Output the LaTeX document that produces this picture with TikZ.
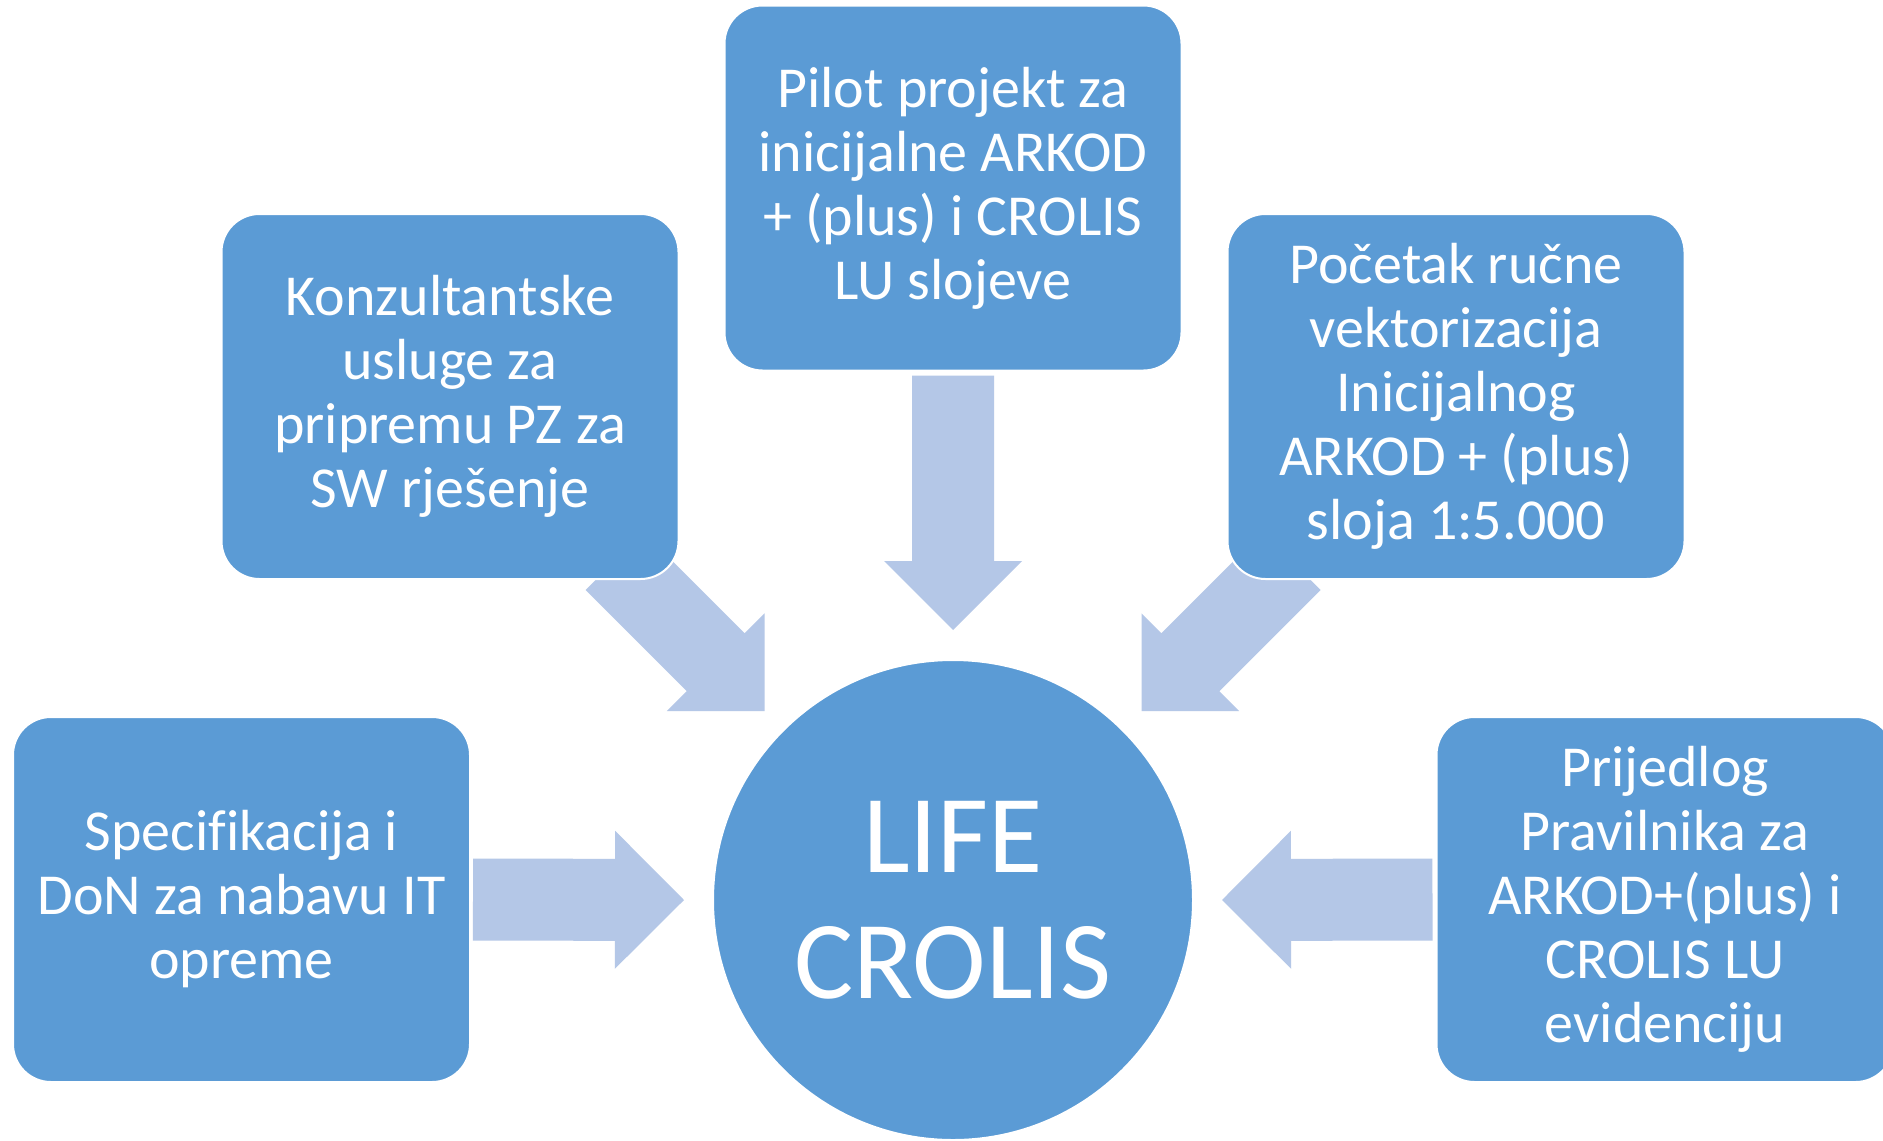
\documentclass[tikz,border=0pt]{standalone}
\usepackage{fontspec}
\setmainfont{Carlito}[Ligatures={NoCommon}]
\usetikzlibrary{calc,backgrounds}
\definecolor{boxblue}{HTML}{5B9BD5}
\definecolor{arrowblue}{HTML}{B4C7E7}
\newcommand\blockarr[2]{%
  \coordinate (hb) at ($(#2)!69pt!(#1)$);
  \fill[arrowblue] ($(#1)!41pt!90:(#2)$) -- ($(hb)!41pt!-90:(#1)$) -- ($(hb)!69pt!-90:(#1)$) -- (#2)
    -- ($(hb)!69pt!90:(#1)$) -- ($(hb)!41pt!90:(#1)$) -- ($(#1)!41pt!-90:(#2)$) -- cycle;
}
\tikzset{
  card/.style={rectangle, rounded corners=38pt, fill=boxblue, draw=white, line width=2pt,
    minimum width=457pt, minimum height=365pt, text=white, align=center, inner sep=0pt,
    font=\fontsize{58}{64}\selectfont},
  hub/.style={circle, fill=boxblue, draw=white, line width=2pt, minimum size=480pt,
    text=white, align=center, inner sep=0pt, font=\fontsize{111}{126}\selectfont}
}
\begin{document}
\begin{tikzpicture}[x=1pt,y=-1pt]
\clip (0,0) rectangle (1883,1141);
\useasboundingbox (0,0) rectangle (1883,1141);
\node[card] (top) at (953,188) {Pilot projekt za\\inicijalne ARKOD\\+ (plus) i CROLIS\\LU slojeve};
\node[card] (tl) at (450,396.5) {Konzultantske\\usluge za\\pripremu PZ za\\SW rješenje};
\node[card] (tr) at (1456,396.5) {Početak ručne\\vektorizacija\\Inicijalnog\\ARKOD + (plus)\\sloja 1:5.000};
\node[card] (lf) at (241.5,899.5) {Specifikacija i\\DoN za nabavu IT\\opreme};
\node[card] (rt) at (1665,899.5) {Prijedlog\\Pravilnika za\\ARKOD+(plus) i\\CROLIS LU\\evidenciju};
\node[hub] (hub) at (953,900) {LIFE\\CROLIS};
\begin{pgfonlayer}{background}
\fill[white] (0,0) rectangle (1883,1141);
\coordinate (s1) at ($(lf.east)+(2,0)$);
\coordinate (e1) at ($(hub.west)+(-28,0)$);
\coordinate (s2) at ($(rt.west)+(-3,0)$);
\coordinate (e2) at ($(hub.east)+(28,0)$);
\coordinate (s3) at ($(top.south)+(0,4)$);
\coordinate (e3) at ($(hub.north)+(0,-29)$);
\coordinate (s4) at ($(tl.south east)+(-65,-19)$);
\coordinate (e4) at ($(s4)+(150,150)$);
\coordinate (s5) at ($(tr.south west)+(65,-19)$);
\coordinate (e5) at ($(s5)+(-150,150)$);
\blockarr{s1}{e1}
\blockarr{s2}{e2}
\blockarr{s3}{e3}
\blockarr{s4}{e4}
\blockarr{s5}{e5}
\end{pgfonlayer}
\end{tikzpicture}
\end{document}
